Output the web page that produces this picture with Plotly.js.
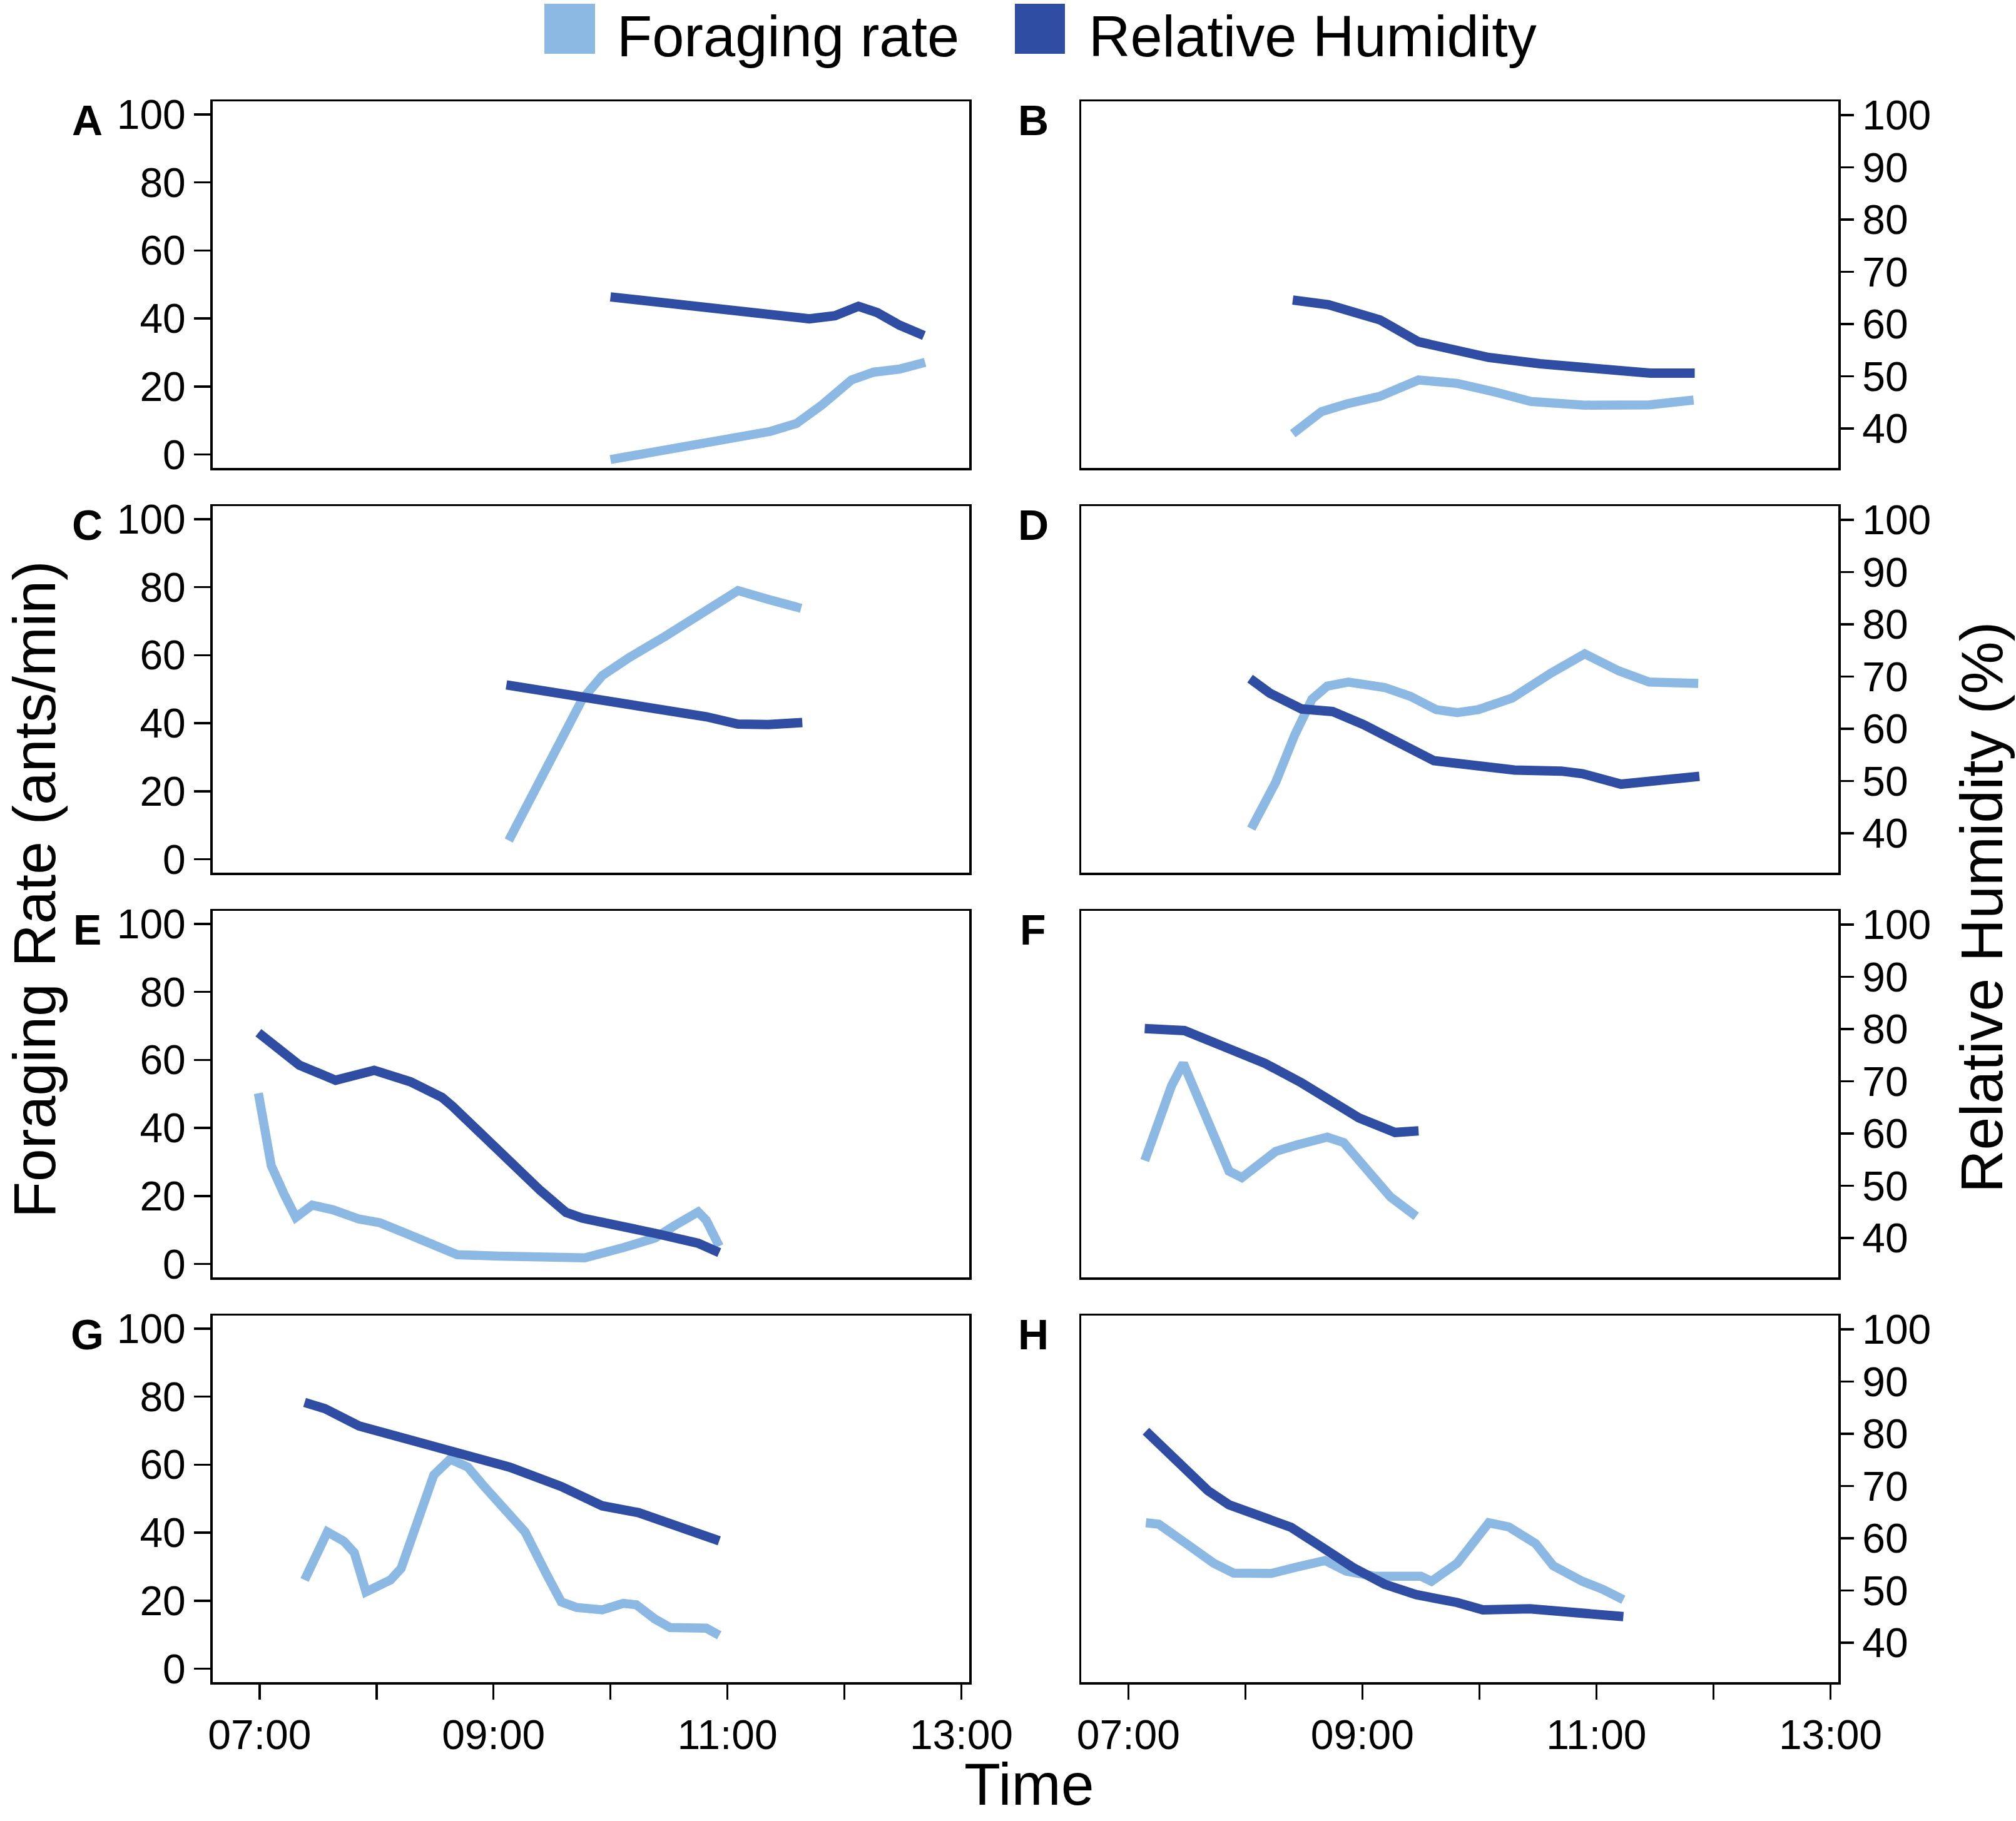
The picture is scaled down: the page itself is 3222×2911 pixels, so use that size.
<!DOCTYPE html>
<html><head><meta charset="utf-8">
<script src="https://cdn.plot.ly/plotly-3.0.1.min.js"></script>
<style>html,body{margin:0;padding:0;background:#fff}#chart{width:3222px;height:2911px}</style>
</head><body><div id="chart"></div>
<script>
// ---- tick labels ----
const hourTicks = [7, 8, 9, 10, 11, 12, 13];
const hourTickText = ['07:00', '', '09:00', '', '11:00', '', '13:00'];
const forageTicks = [0, 20, 40, 60, 80, 100];
const rhTicks = [40, 50, 60, 70, 80, 90, 100];
const panelLetters = ['A', 'B', 'C', 'D', 'E', 'F', 'G', 'H'];
const seriesNames = ['Foraging rate', 'Relative Humidity'];

// ---- data (time in decimal hours) ----
const timeA_f = [10.0, 10.82, 11.37, 11.59, 11.81, 12.06, 12.25, 12.47, 12.69];
const forageA = [-1.5, 3.6, 6.8, 9.1, 14.6, 21.9, 24.2, 25.1, 27.1];
const timeA_h = [10.0, 10.82, 11.37, 11.70, 11.92, 12.12, 12.28, 12.47, 12.68];
const rhA = [65.2, 63.1, 61.5, 61.0, 61.6, 63.4, 62.2, 59.8, 57.8];

const timeB_f = [8.405, 8.65, 8.87, 9.15, 9.48, 9.81, 10.14, 10.44, 10.9, 11.45, 11.83];
const forageB = [6.1, 12.6, 14.9, 17.1, 21.9, 20.9, 18.3, 15.6, 14.5, 14.6, 16.0];
const timeB_h = [8.405, 8.71, 9.15, 9.48, 10.08, 10.52, 11.46, 11.84];
const rhB = [64.6, 63.7, 60.8, 56.6, 53.6, 52.4, 50.6, 50.6];

const timeC_f = [9.13, 9.31, 9.53, 9.76, 9.93, 10.16, 10.47, 10.82, 11.09, 11.35, 11.63];
const forageC = [5.5, 17.3, 31.8, 47.1, 54.0, 59.3, 65.6, 73.0, 79.0, 76.4, 73.8];
const timeC_h = [9.11, 9.85, 10.47, 10.82, 11.09, 11.35, 11.64];
const rhC = [68.4, 65.8, 63.8, 62.3, 60.9, 60.8, 61.2];

const timeD_f = [8.05, 8.26, 8.42, 8.57, 8.70, 8.88, 9.19, 9.41, 9.63, 9.81, 9.99, 10.28, 10.61, 10.90, 11.19, 11.45, 11.87];
const forageD = [9.0, 22.7, 36.4, 47.1, 50.9, 52.1, 50.5, 47.9, 44.0, 43.1, 44.0, 47.4, 54.7, 60.4, 55.4, 52.1, 51.7];
const timeD_h = [8.04, 8.21, 8.48, 8.745, 9.01, 9.32, 9.61, 9.99, 10.30, 10.70, 10.88, 11.21, 11.45, 11.88];
const rhD = [69.6, 66.8, 63.8, 63.3, 60.8, 57.3, 53.9, 52.9, 52.1, 51.9, 51.4, 49.4, 49.9, 50.9];

const timeE_f = [6.99, 7.04, 7.10, 7.21, 7.31, 7.45, 7.63, 7.85, 8.03, 8.25, 8.56, 8.69, 9.05, 9.49, 9.78, 10.11, 10.38, 10.55, 10.75, 10.82, 10.93];
const forageE = [50.2, 41.1, 28.9, 20.5, 13.7, 17.3, 15.9, 13.2, 12.1, 9.0, 4.3, 2.7, 2.3, 1.8, 1.8, 4.8, 7.6, 11.3, 15.3, 12.8, 5.2];
const timeE_h = [6.99, 7.34, 7.65, 7.98, 8.29, 8.56, 8.65, 8.87, 9.14, 9.40, 9.62, 9.76, 10.38, 10.75, 10.93];
const rhE = [79.3, 73.1, 70.2, 72.1, 69.9, 66.9, 65.2, 60.5, 54.3, 49.1, 44.9, 43.8, 40.9, 39.0, 37.2];

const timeF_f = [7.14, 7.26, 7.37, 7.47, 7.59, 7.75, 7.86, 7.97, 8.10, 8.26, 8.44, 8.70, 8.84, 9.01, 9.24, 9.46];
const forageF = [30.4, 41.8, 52.5, 59.0, 48.7, 35.0, 27.3, 25.4, 28.9, 33.1, 35.0, 37.3, 35.7, 28.9, 19.7, 14.0];
const timeF_h = [7.14, 7.48, 7.82, 8.17, 8.48, 8.75, 8.97, 9.28, 9.48];
const rhF = [80.1, 79.7, 76.6, 73.4, 69.7, 66.2, 63.0, 60.2, 60.5];

const timeG_f = [7.385, 7.47, 7.58, 7.72, 7.81, 7.91, 8.12, 8.21, 8.34, 8.49, 8.63, 8.78, 8.91, 9.07, 9.27, 9.45, 9.58, 9.71, 9.93, 10.11, 10.22, 10.38, 10.51, 10.82, 10.93];
const forageG = [26.1, 32.6, 40.2, 37.5, 34.1, 22.6, 26.1, 29.5, 41.7, 57.0, 61.6, 59.3, 54.0, 47.9, 40.2, 28.0, 19.6, 18.0, 17.3, 19.2, 18.8, 14.6, 12.1, 11.9, 9.8];
const timeG_h = [7.385, 7.56, 7.85, 8.25, 8.69, 9.14, 9.58, 9.93, 10.24, 10.60, 10.93];
const rhG = [86.0, 84.8, 81.5, 79.1, 76.6, 73.6, 69.9, 66.2, 64.9, 62.2, 59.5];

const timeH_f = [7.15, 7.26, 7.51, 7.73, 7.90, 8.22, 8.44, 8.68, 8.86, 9.10, 9.50, 9.59, 9.81, 9.94, 10.08, 10.25, 10.48, 10.63, 10.88, 11.05, 11.23];
const forageH = [42.9, 42.5, 36.4, 31.0, 28.1, 28.0, 29.9, 31.8, 28.7, 27.2, 27.2, 25.7, 31.0, 37.2, 42.9, 41.7, 36.8, 30.3, 25.7, 23.4, 20.3];
const timeH_h = [7.15, 7.42, 7.68, 7.86, 8.13, 8.39, 8.66, 8.92, 9.19, 9.46, 9.81, 10.03, 10.43, 10.79, 11.23];
const rhH = [80.5, 74.6, 69.1, 66.4, 64.4, 62.1, 58.2, 54.4, 51.2, 49.2, 47.7, 46.3, 46.5, 45.9, 45.0];

// ---- build ----
const panels = [
  [timeA_f, forageA, timeA_h, rhA], [timeB_f, forageB, timeB_h, rhB],
  [timeC_f, forageC, timeC_h, rhC], [timeD_f, forageD, timeD_h, rhD],
  [timeE_f, forageE, timeE_h, rhE], [timeF_f, forageF, timeF_h, rhF],
  [timeG_f, forageG, timeG_h, rhG], [timeH_f, forageH, timeH_h, rhH]
];
const W = 3222, H = 2911;
const FONT = 'Liberation Sans, Arial, Helvetica, sans-serif';
const lightBlue = '#8cb8e4', darkBlue = '#2f4ea3';
const colX = [[339.5, 1549], [1728, 2938]];
const rowTop = [162, 809, 1456, 2103];
const rowH = 586;
const lw = 3.5;

const traces = [];
const layout = {
  width: W, height: H, margin: {l: 0, r: 0, t: 0, b: 0},
  paper_bgcolor: '#fff', plot_bgcolor: '#fff', showlegend: false,
  font: {family: FONT, color: '#000', size: 66},
  annotations: [], shapes: []
};

panels.forEach((p, i) => {
  const col = i % 2, row = Math.floor(i / 2);
  const xs = i === 0 ? '' : String(i + 1);
  const fyN = 2 * i + 1, hyN = 2 * i + 2;
  const fys = fyN === 1 ? '' : String(fyN);
  const dx = [colX[col][0] / W, colX[col][1] / W];
  const dy = [1 - (rowTop[row] + rowH) / H, 1 - rowTop[row] / H];
  layout['xaxis' + xs] = {
    domain: dx, anchor: 'y' + fys, range: [6.597, 13.067],
    tickmode: 'array', tickvals: hourTicks, ticktext: hourTickText,
    showticklabels: row === 3, ticks: row === 3 ? 'outside' : '',
    ticklen: 24, tickwidth: lw, tickcolor: '#000',
    tickfont: {family: FONT, size: 66, color: '#000'},
    showline: true, mirror: true, linecolor: '#000', linewidth: lw,
    showgrid: false, zeroline: false, fixedrange: true
  };
  layout['yaxis' + fys] = {
    domain: dy, anchor: 'x' + xs, range: [-3.96, 103.86],
    tickmode: 'array', tickvals: forageTicks,
    showticklabels: col === 0, ticks: col === 0 ? 'outside' : '',
    ticklen: 26, tickwidth: lw, tickcolor: '#000',
    tickfont: {family: FONT, size: 66, color: '#000'},
    showline: true, mirror: true, linecolor: '#000', linewidth: lw,
    showgrid: false, zeroline: false, fixedrange: true
  };
  layout['yaxis' + hyN] = {
    anchor: 'x' + xs, overlaying: 'y' + fys, side: 'right', range: [32.46, 102.63],
    tickmode: 'array', tickvals: rhTicks,
    showticklabels: col === 1, ticks: col === 1 ? 'outside' : '',
    ticklen: 24, tickwidth: lw, tickcolor: '#000',
    tickfont: {family: FONT, size: 66, color: '#000'},
    showline: false, showgrid: false, zeroline: false, fixedrange: true
  };
  traces.push({
    type: 'scatter', mode: 'lines', name: seriesNames[0],
    x: p[0], y: p[1], xaxis: 'x' + xs, yaxis: 'y' + fys,
    line: {color: lightBlue, width: 14.5, shape: 'linear'}, hoverinfo: 'skip'
  });
  traces.push({
    type: 'scatter', mode: 'lines', name: seriesNames[1],
    x: p[2], y: p[3], xaxis: 'x' + xs, yaxis: 'y' + hyN,
    line: {color: darkBlue, width: 15, shape: 'linear'}, hoverinfo: 'skip'
  });
  layout.annotations.push({
    xref: 'paper', yref: 'paper', x: (col === 0 ? 139 : 1651) / W,
    y: 1 - (192 + 647 * row) / H, xanchor: 'center', yanchor: 'middle',
    text: '<b>' + panelLetters[i] + '</b>', showarrow: false,
    font: {family: FONT, size: 68, color: '#000'}
  });
});

// legend drawn as paper shapes + labels
const legendBoxes = [[870, 951], [1622, 1702]];
const legendColors = [lightBlue, darkBlue];
const legendTextX = [984, 1738];
seriesNames.forEach((nm, k) => {
  layout.shapes.push({
    type: 'rect', xref: 'paper', yref: 'paper',
    x0: legendBoxes[k][0] / W, x1: legendBoxes[k][1] / W,
    y0: 1 - 86 / H, y1: 1 - 6 / H,
    fillcolor: legendColors[k], line: {width: 0}
  });
  layout.annotations.push({
    xref: 'paper', yref: 'paper', x: legendTextX[k] / W, y: 1 - 58 / H,
    xanchor: 'left', yanchor: 'middle', text: nm, showarrow: false,
    font: {family: FONT, size: 92, color: '#000'}
  });
});

// axis titles
layout.annotations.push({
  xref: 'paper', yref: 'paper', x: 1645 / W, y: 1 - 2852 / H,
  xanchor: 'center', yanchor: 'middle', text: 'Time', showarrow: false,
  font: {family: FONT, size: 95, color: '#000'}
});
layout.annotations.push({
  xref: 'paper', yref: 'paper', x: 55 / W, y: 1 - 1422 / H,
  xanchor: 'center', yanchor: 'middle', textangle: -90,
  text: 'Foraging Rate (ants/min)', showarrow: false,
  font: {family: FONT, size: 95, color: '#000'}
});
layout.annotations.push({
  xref: 'paper', yref: 'paper', x: 3167 / W, y: 1 - 1451 / H,
  xanchor: 'center', yanchor: 'middle', textangle: -90,
  text: 'Relative Humidity (%)', showarrow: false,
  font: {family: FONT, size: 95, color: '#000'}
});

Plotly.newPlot('chart', traces, layout, {staticPlot: true, displayModeBar: false});
</script>
</body></html>
